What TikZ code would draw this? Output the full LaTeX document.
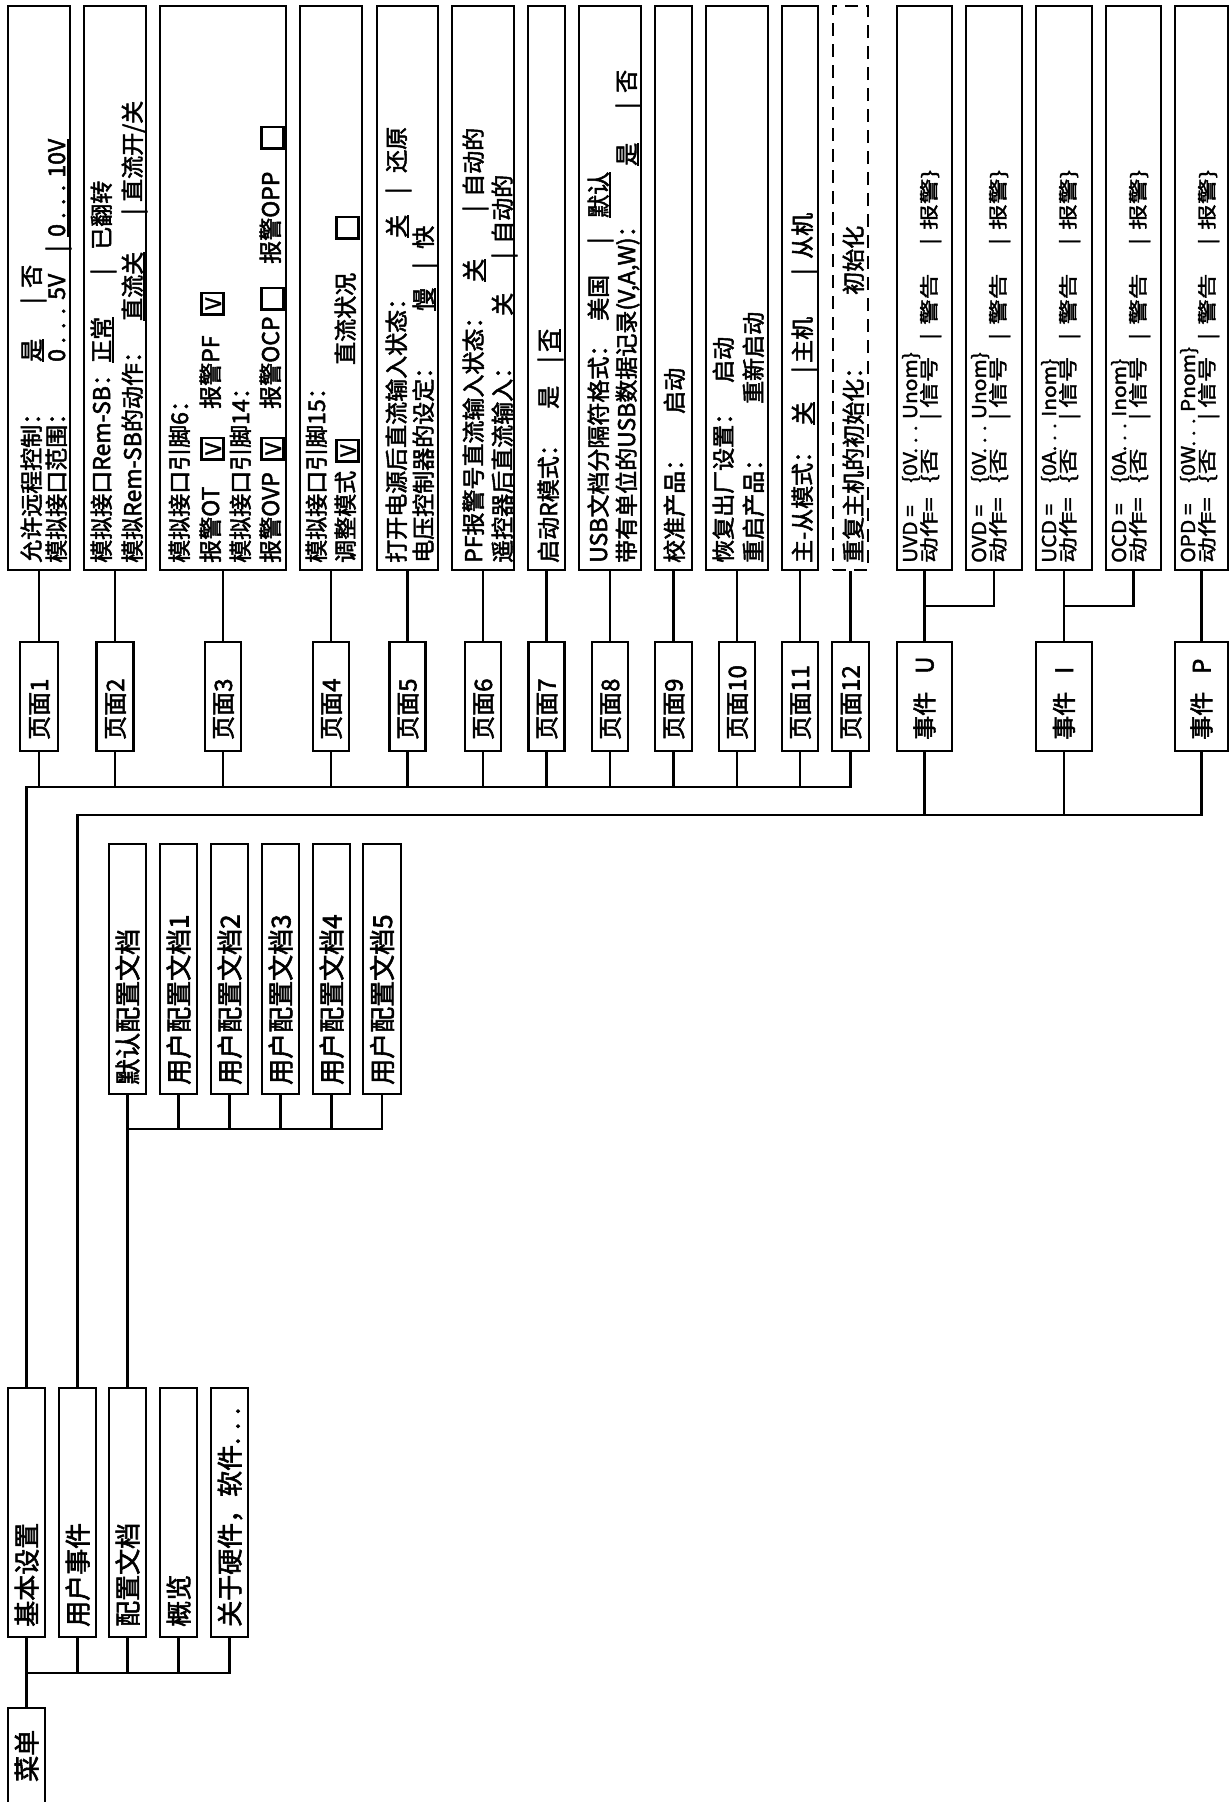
\documentclass[tikz,border=0pt]{standalone}
\usepackage{fontspec}
\setmainfont[FakeBold=2.2]{Noto Sans CJK SC}
\newfontfamily\evfont[FakeBold=1.8,FakeStretch=1.35]{Noto Sans CJK SC}
\newfontfamily\evlat[FakeBold=1.8,FakeStretch=1.1]{Noto Sans CJK SC}
\newcommand\fsz[1]{\fontsize{#1}{#1}\selectfont}
\newcommand\tb[2]{\makebox[#1pt][l]{#2}}
\newcommand\uln[1]{\setbox0\hbox{#1}\rlap{\rule[-4pt]{\wd0}{2pt}}\box0}
\newcommand\cbon{\raisebox{-3pt}{\setlength\fboxsep{0pt}\setlength\fboxrule{2.6pt}\fbox{\makebox[19pt][c]{\rule{0pt}{19pt}\raisebox{1pt}{\fsz{21}V}}}}}
\newcommand\cboff{\raisebox{-3pt}{\setlength\fboxsep{0pt}\setlength\fboxrule{2.6pt}\fbox{\rule{0pt}{19pt}\hspace{19pt}}}}
\begin{document}
\begin{tikzpicture}[x=1pt,y=-1pt,
  bx/.style={draw, line width=2.6pt, inner sep=0pt},
  dbx/.style={bx, dash pattern=on 13pt off 8pt},
  ln/.style={line width=2.4pt},
  tx/.style={rotate=90, anchor=base west, inner sep=0pt, font=\fsz{23}},
  ptx/.style={tx, font=\fsz{24}},
  etx/.style={tx, font=\evfont\fsz{19}},
  elx/.style={tx, font=\evlat\fsz{19}},
  btx/.style={tx, font=\fsz{26}}]
\fill[white] (0,0) rectangle (1230,1802);
\useasboundingbox (0,0) rectangle (1230,1802);
\clip (0,0) rectangle (1230,1802);

% ---------- top boxes ----------
\node[bx,minimum width=62pt,minimum height=564pt] (b1) at (39,288) {};
\node[bx,minimum width=62pt,minimum height=564pt] (b2) at (115,288) {};
\node[bx,minimum width=126pt,minimum height=564pt] (b3) at (223,288) {};
\node[bx,minimum width=62pt,minimum height=564pt] (b4) at (331,288) {};
\node[bx,minimum width=61pt,minimum height=564pt] (b5) at (407.5,288) {};
\node[bx,minimum width=62pt,minimum height=564pt] (b6) at (483,288) {};
\node[bx,minimum width=37pt,minimum height=564pt] (b7) at (546.5,288) {};
\node[bx,minimum width=62pt,minimum height=564pt] (b8) at (610,288) {};
\node[bx,minimum width=37pt,minimum height=564pt] (b9) at (673.5,288) {};
\node[bx,minimum width=62pt,minimum height=564pt] (b10) at (737,288) {};
\node[bx,minimum width=36pt,minimum height=564pt] (b11) at (800,288) {};
\node[dbx,minimum width=35pt,minimum height=564pt] (b12) at (850.5,288) {};
\node[bx,minimum width=55pt,minimum height=564pt] (uvd) at (924.5,288) {};
\node[bx,minimum width=56pt,minimum height=564pt] (ovd) at (994,288) {};
\node[bx,minimum width=56pt,minimum height=564pt] (ucd) at (1064,288) {};
\node[bx,minimum width=55pt,minimum height=564pt] (ocd) at (1133.5,288) {};
\node[bx,minimum width=53pt,minimum height=564pt] (opd) at (1201.5,288) {};

% ---------- top box texts ----------
\node[tx] (t1a) at (40,563) {\tb{201}{允许远程控制：}\tb{58}{\uln{是}}\tb{16}{|}否};
\node[tx] (t1b) at (65,563) {\tb{201}{模拟接口范围：}\tb{110}{\makebox[88pt][s]{0 . . . 5V}}\tb{15}{|}\uln{\makebox[98pt][s]{0 . . . 10V}}};

\node[tx] (t2a) at (110,563) {\tb{200}{模拟接口Rem-SB：}\tb{88}{\uln{正常}}\tb{25}{|}已翻转};
\node[tx] (t2b) at (141,563) {\tb{242}{模拟Rem-SB的动作：}\tb{106}{\uln{直流关}}\tb{13}{|}直流开/关};

\node[tx] (t3a) at (188,563) {模拟接口引脚6：};
\node[tx] (t3b) at (219,563) {\tb{102}{报警OT}\tb{52}{\cbon}\tb{93}{报警PF}\cbon};
\node[tx] (t3c) at (249,563) {模拟接口引脚14：};
\node[tx] (t3d) at (279,563) {\tb{102}{报警OVP}\tb{52}{\cbon}\tb{98}{报警OCP}\tb{47}{\cboff}\tb{114}{报警OPP}\cboff};

\node[tx] (t4a) at (325,563) {模拟接口引脚15：};
\node[tx] (t4b) at (354,563) {\tb{100}{调整模式}\tb{98}{\cbon}\tb{125}{直流状况}\cboff};

\node[tx] (t5a) at (405,563) {\tb{325}{打开电源后直流输入状态：}\tb{44}{\uln{关}}\tb{21}{|}还原};
\node[tx] (t5b) at (432,563) {\tb{252}{电压控制器的设定：}\tb{42}{\uln{慢}}\tb{20}{|}快};

\node[tx] (t6a) at (482,563) {\tb{281}{PF报警号直流输入状态：}\tb{70}{\uln{关}}\tb{15}{|}自动的};
\node[tx] (t6b) at (511,563) {\tb{247}{遥控器后直流输入：}\tb{57}{\uln{关}}\tb{15}{|}自动的};

\node[tx] (t7a) at (557,563) {\tb{154}{启动R模式：}\tb{46}{是}\tb{11}{|}\uln{否}};

\node[tx] (t8a) at (607,563) {\tb{242}{USB文档分隔符格式：}\tb{77}{美国}\tb{26}{|}\uln{默认}};
\node[tx] (t8b) at (635,563) {\tb{397}{带有单位的USB数据记录(V,A,W)：}\tb{57}{\uln{是}}\tb{16}{|}否};

\node[tx] (t9a) at (683,563) {\tb{149}{校准产品：}启动};

\node[tx] (t10a) at (732,563) {\tb{180}{恢复出厂设置：}启动};
\node[tx] (t10b) at (762,563) {\tb{159}{重启产品：}重新启动};

\node[tx] (t11a) at (811,563) {\tb{138}{主-从模式：}\tb{52}{\uln{关}}\tb{10}{|}\tb{88}{主机}\tb{16}{|}从机};

\node[tx] (t12a) at (862,563) {\tb{268}{重复主机的初始化：}初始化};

% event detail texts
\node[elx] (tu1) at (917,563) {\tb{80}{UVD =}\{0V. . . Unom\}};
\node[etx] (tu2) at (936,563) {\tb{80}{动作=}\tb{63}{\{否}\tb{12}{|}\tb{68}{信号}\tb{15}{|}\tb{80}{警告}\tb{15}{|}报警\}};
\node[elx] (to1) at (986,563) {\tb{80}{OVD =}\{0V. . . Unom\}};
\node[etx] (to2) at (1005,563) {\tb{80}{动作=}\tb{63}{\{否}\tb{12}{|}\tb{68}{信号}\tb{15}{|}\tb{80}{警告}\tb{15}{|}报警\}};
\node[elx] (ti1) at (1056,563) {\tb{80}{UCD =}\{0A. . . Inom\}};
\node[etx] (ti2) at (1075,563) {\tb{80}{动作=}\tb{63}{\{否}\tb{12}{|}\tb{68}{信号}\tb{15}{|}\tb{80}{警告}\tb{15}{|}报警\}};
\node[elx] (tc1) at (1126,563) {\tb{80}{OCD =}\{0A. . . Inom\}};
\node[etx] (tc2) at (1145,563) {\tb{80}{动作=}\tb{63}{\{否}\tb{12}{|}\tb{68}{信号}\tb{15}{|}\tb{80}{警告}\tb{15}{|}报警\}};
\node[elx] (tp1) at (1195,563) {\tb{80}{OPD =}\{0W. . . Pnom\}};
\node[etx] (tp2) at (1214,563) {\tb{80}{动作=}\tb{63}{\{否}\tb{12}{|}\tb{68}{信号}\tb{15}{|}\tb{80}{警告}\tb{15}{|}报警\}};

% ---------- page boxes ----------
\node[bx,minimum width=38pt,minimum height=109pt] (p1) at (39,696.5) {};
\node[bx,minimum width=37pt,minimum height=109pt] (p2) at (115,696.5) {};
\node[bx,minimum width=36pt,minimum height=109pt] (p3) at (223,696.5) {};
\node[bx,minimum width=36pt,minimum height=109pt] (p4) at (331,696.5) {};
\node[bx,minimum width=36pt,minimum height=109pt] (p5) at (407.5,696.5) {};
\node[bx,minimum width=36pt,minimum height=109pt] (p6) at (483,696.5) {};
\node[bx,minimum width=36pt,minimum height=109pt] (p7) at (546.5,696.5) {};
\node[bx,minimum width=36pt,minimum height=109pt] (p8) at (610,696.5) {};
\node[bx,minimum width=37pt,minimum height=109pt] (p9) at (673.5,696.5) {};
\node[bx,minimum width=36pt,minimum height=109pt] (p10) at (737,696.5) {};
\node[bx,minimum width=36pt,minimum height=109pt] (p11) at (800,696.5) {};
\node[bx,minimum width=37pt,minimum height=109pt] (p12) at (850.5,696.5) {};
\node[bx,minimum width=55pt,minimum height=109pt] (eU) at (924.5,696.5) {};
\node[bx,minimum width=56pt,minimum height=109pt] (eI) at (1064,696.5) {};
\node[bx,minimum width=53pt,minimum height=109pt] (eP) at (1201.5,696.5) {};

\node[ptx] (tp01) at (48,740) {页面1};
\node[ptx] (tp02) at (124,740) {页面2};
\node[ptx] (tp03) at (232,740) {页面3};
\node[ptx] (tp04) at (340,740) {页面4};
\node[ptx] (tp05) at (416.5,740) {页面5};
\node[ptx] (tp06) at (492,740) {页面6};
\node[ptx] (tp07) at (555.5,740) {页面7};
\node[ptx] (tp08) at (619,740) {页面8};
\node[ptx] (tp09) at (682.5,740) {页面9};
\node[ptx] (tp10) at (746,740) {页面10};
\node[ptx] (tp11) at (809,740) {页面11};
\node[ptx] (tp12) at (859.5,740) {页面12};
\node[ptx] (teU) at (933.5,740) {事件\hspace{18pt}U};
\node[ptx] (teI) at (1073,740) {事件\hspace{18pt}I};
\node[ptx] (teP) at (1210.5,740) {事件\hspace{18pt}P};

% ---------- profile boxes ----------
\node[bx,minimum width=37pt,minimum height=250pt] (c0) at (127.5,969) {};
\node[bx,minimum width=37pt,minimum height=250pt] (c1) at (178.5,969) {};
\node[bx,minimum width=37pt,minimum height=250pt] (c2) at (229.5,969) {};
\node[bx,minimum width=37pt,minimum height=250pt] (c3) at (280.5,969) {};
\node[bx,minimum width=37pt,minimum height=250pt] (c4) at (331.5,969) {};
\node[bx,minimum width=38pt,minimum height=250pt] (c5) at (382,969) {};
\node[btx] (tc0) at (137.5,1085) {默认配置文档};
\node[btx] (tc1) at (188.5,1085) {用户配置文档1};
\node[btx] (tc2) at (239.5,1085) {用户配置文档2};
\node[btx] (tc3) at (290.5,1085) {用户配置文档3};
\node[btx] (tc4) at (341.5,1085) {用户配置文档4};
\node[btx] (tc5) at (392,1085) {用户配置文档5};

% ---------- main menu boxes ----------
\node[bx,minimum width=37pt,minimum height=249pt] (m1) at (26.5,1512.5) {};
\node[bx,minimum width=37pt,minimum height=249pt] (m2) at (77.5,1512.5) {};
\node[bx,minimum width=37pt,minimum height=249pt] (m3) at (127.5,1512.5) {};
\node[bx,minimum width=37pt,minimum height=249pt] (m4) at (178.5,1512.5) {};
\node[bx,minimum width=37pt,minimum height=249pt] (m5) at (229.5,1512.5) {};
\node[btx] (tm1) at (36.5,1627) {基本设置};
\node[btx] (tm2) at (87.5,1627) {用户事件};
\node[btx] (tm3) at (137.5,1627) {配置文档};
\node[btx] (tm4) at (188.5,1627) {概览};
\node[btx] (tm5) at (239.5,1627) {关于硬件，软件. . .};

\node[bx,minimum width=37pt,minimum height=112pt] (menu) at (26.5,1764) {};
\node[btx] (tmenu) at (36.5,1782) {菜单};

% ---------- connectors ----------
\coordinate (bus1) at (26.5,787);
\coordinate (bus2) at (77.5,815);
\coordinate (jU) at (924.5,606);
\coordinate (jI) at (1064,606);
\coordinate (cb) at (127.5,1129);
\coordinate (mb) at (26.5,1673);

\foreach \i in {1,...,12} {
  \draw[ln] (b\i.south) -- (p\i.north);
  \draw[ln] (p\i.south) -- (p\i.south |- bus1);
}
\draw[ln] (p12.south) |- (bus1) -- (m1.north);

\draw[ln] (uvd.south) -- (eU.north);
\draw[ln] (ovd.south) |- (jU);
\draw[ln] (ucd.south) -- (eI.north);
\draw[ln] (ocd.south) |- (jI);
\draw[ln] (opd.south) -- (eP.north);
\draw[ln] (eU.south) -- (eU.south |- bus2);
\draw[ln] (eI.south) -- (eI.south |- bus2);
\draw[ln] (eP.south) |- (bus2) -- (m2.north);

\foreach \i in {1,...,4} \draw[ln] (c\i.south) -- (c\i.south |- cb);
\draw[ln] (c5.south) |- (cb);
\draw[ln] (c0.south) -- (m3.north);

\foreach \i in {2,...,4} \draw[ln] (m\i.south) -- (m\i.south |- mb);
\draw[ln] (m5.south) |- (mb);
\draw[ln] (m1.south) -- (menu.north);
\end{tikzpicture}
\end{document}
